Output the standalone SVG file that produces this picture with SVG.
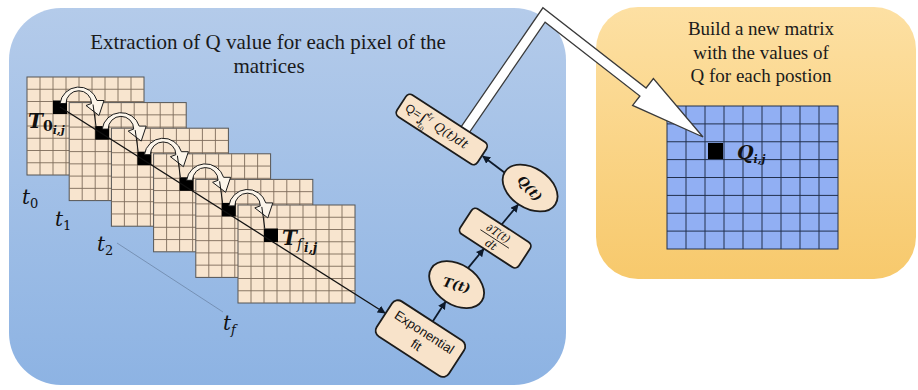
<svg xmlns="http://www.w3.org/2000/svg" xmlns:xlink="http://www.w3.org/1999/xlink" width="918" height="390" viewBox="0 0 918 390">
<style>
.ttl{font-family:"Liberation Serif","Times New Roman",serif;fill:#1a1a1a}
.math{font-family:"DejaVu Serif",serif;font-style:italic;fill:#111}
.mb{font-weight:bold}
.up{font-style:normal}
.node{fill:#f8e3ca;stroke:#1c1c1c;stroke-width:1.8}
.conn{stroke:#0e1a2b;stroke-width:1.8;fill:none}
.arc{fill:#fcf5ea;stroke:#1a1a1a;stroke-width:1}
.thin{stroke:#111;stroke-width:1;fill:none}
.px{fill:#000}
.sans{font-family:"Liberation Sans",Arial,sans-serif;fill:#111}
</style>
<defs>
<linearGradient id="gBlue" x1="0" y1="0" x2="0" y2="1">
<stop offset="0" stop-color="#b4cbea"/><stop offset="1" stop-color="#8db3e3"/>
</linearGradient>
<linearGradient id="gOr" x1="0" y1="0" x2="0" y2="1">
<stop offset="0" stop-color="#fde0a3"/><stop offset="1" stop-color="#f7c96c"/>
</linearGradient>
<marker id="ah" viewBox="0 0 10 10" refX="9" refY="5" markerWidth="8" markerHeight="8" markerUnits="userSpaceOnUse" orient="auto">
<path d="M0,0 L10,5 L0,10 z" fill="#0e1a2b"/>
</marker>
<g id="lgrid">
<rect width="117" height="98" fill="#f8e5cf" stroke="#555" stroke-width="1"/>
<path d="M13,0V98M26,0V98M39,0V98M52,0V98M65,0V98M78,0V98M91,0V98M104,0V98M0,12.25H117M0,24.5H117M0,36.75H117M0,49H117M0,61.25H117M0,73.5H117M0,85.75H117" stroke="#7d6b5a" stroke-width="0.9"/>
</g>
<path id="carc" d="M7,3 A19,19 0 0 1 44,0 L51,0 L46,15 L33,5 L38.5,3 A12.5,12.5 0 0 0 13,3 Z"/>
</defs>

<g id="panel-left">
<rect x="9" y="8" width="557" height="377" rx="52" fill="url(#gBlue)"/>
<text class="ttl" font-size="21" text-anchor="middle" x="268" y="49">Extraction of Q value for each pixel of the</text>
<text class="ttl" font-size="21" text-anchor="middle" x="269" y="73">matrices</text>
</g>

<g id="panel-right">
<rect x="596" y="7" width="320" height="272" rx="42" fill="url(#gOr)"/>
<text class="ttl" font-size="19" text-anchor="middle" x="761" y="35">Build a new matrix</text>
<text class="ttl" font-size="19" text-anchor="middle" x="761" y="58.5">with the values of</text>
<text class="ttl" font-size="19" text-anchor="middle" x="761" y="82">Q for each postion</text>
</g>

<g id="qmatrix">
<rect x="667" y="106" width="171" height="143" fill="#91aff3" stroke="#22304d" stroke-width="1"/>
<path d="M686,106V249M705,106V249M724,106V249M743,106V249M762,106V249M781,106V249M800,106V249M819,106V249M667,123.9H838M667,141.75H838M667,159.6H838M667,177.5H838M667,195.4H838M667,213.25H838M667,231.1H838" stroke="#22304d" stroke-width="1"/>
<rect class="px" x="708" y="143" width="15" height="16"/>
<text class="math mb" font-size="19" x="737" y="159">Q<tspan font-size="11" dy="4">i,j</tspan></text>
</g>

<g id="frame0" transform="translate(27,77)"><use href="#lgrid"/><rect class="px" x="26" y="23.5" width="14" height="13.5"/></g>
<g id="frame1" transform="translate(69.2,102.6)"><use href="#lgrid"/><rect class="px" x="26" y="23.5" width="14" height="13.5"/></g>
<g id="frame2" transform="translate(111.4,128.2)"><use href="#lgrid"/><rect class="px" x="26" y="23.5" width="14" height="13.5"/></g>
<g id="frame3" transform="translate(153.6,153.8)"><use href="#lgrid"/><rect class="px" x="26" y="23.5" width="14" height="13.5"/></g>
<g id="frame4" transform="translate(195.8,179.4)"><use href="#lgrid"/><rect class="px" x="26" y="23.5" width="14" height="13.5"/></g>
<g id="frame5" transform="translate(238,205)"><use href="#lgrid"/><rect class="px" x="26" y="23.5" width="14" height="13.5"/></g>

<g id="time-labels">
<text class="math" font-size="20" x="22" y="204">t<tspan class="up" font-size="13" dy="4">0</tspan></text>
<text class="math" font-size="20" x="55" y="226">t<tspan class="up" font-size="13" dy="4">1</tspan></text>
<text class="math" font-size="20" x="97" y="251">t<tspan class="up" font-size="13" dy="4">2</tspan></text>
<text class="math" font-size="20" x="223" y="330">t<tspan font-size="13" dy="4">f</tspan></text>
<line x1="117" y1="243" x2="223" y2="312" stroke="#6d86a8" stroke-width="0.8"/>
</g>

<g id="connectors">
<use href="#carc" class="arc" x="53" y="100.5"/>
<use href="#carc" class="arc" x="95.2" y="126.1"/>
<use href="#carc" class="arc" x="137.4" y="151.7"/>
<use href="#carc" class="arc" x="179.6" y="177.3"/>
<use href="#carc" class="arc" x="221.8" y="202.9"/>
<path class="thin" d="M93,104.5L96,126M135.2,130.1L138.2,151.7M177.4,155.7L180.4,177.3M219.6,181.3L222.6,202.9M261.8,206.9L264.8,228.5"/>
<line x1="60" y1="107" x2="385" y2="313" stroke="#111" stroke-width="1.3" marker-end="url(#ah)"/>
<polygon points="460.9,127.2 542.9,7.8 646.1,88 653.4,78.6 703,137 632.6,105.4 639.9,96 545.1,22.2 469.1,132.8" fill="#fff" stroke="#3a3a3a" stroke-width="1.3"/>
<g transform="rotate(33)">
<line class="conn" x1="538" y1="34" x2="538" y2="10.5" marker-end="url(#ah)"/>
<line class="conn" x1="538.5" y1="-30" x2="541.3" y2="-54.5" marker-end="url(#ah)"/>
<line class="conn" x1="543" y1="-85" x2="546" y2="-110.5" marker-end="url(#ah)"/>
<line class="conn" x1="517" y1="-130" x2="490" y2="-132" marker-end="url(#ah)"/>
</g>
</g>

<g id="labels-T">
<text class="math mb" font-size="20" x="28" y="128">T<tspan class="up" font-size="14" dy="3">0</tspan><tspan font-size="11" dy="3">i,j</tspan></text>
<text class="math mb" font-size="20" x="282" y="245">T<tspan font-size="14" dy="4" font-weight="normal">f</tspan><tspan font-size="12" dx="2" dy="3">i,j</tspan></text>
</g>

<g id="n-exp" transform="rotate(33)">
<rect class="node" x="494" y="34" width="86" height="42" rx="7"/>
<text class="sans" font-size="13" text-anchor="middle" x="537" y="52">Exponential</text>
<text class="sans" font-size="13" text-anchor="middle" x="537" y="67">fit</text>
</g>
<g id="n-T" transform="rotate(33)">
<ellipse class="node" cx="538" cy="-10" rx="30" ry="20"/>
<text class="math mb" font-size="13" text-anchor="middle" transform="translate(538,-10) rotate(-18)" y="5">T(t)</text>
</g>
<g id="n-dT" transform="rotate(33)">
<rect class="node" x="510" y="-85" width="70" height="30" rx="5"/>
<text class="math" font-size="11" text-anchor="middle" x="545" y="-72">∂T(t)</text>
<line x1="528" y1="-69" x2="562" y2="-69" stroke="#111" stroke-width="0.8"/>
<text class="math" font-size="11" text-anchor="middle" x="545" y="-58.5">dt</text>
</g>
<g id="n-Qt" transform="rotate(33)">
<ellipse class="node" cx="547" cy="-131" rx="30" ry="20"/>
<text class="math mb" font-size="13" text-anchor="middle" transform="translate(547,-131) rotate(15)" y="5">Q(t)</text>
</g>
<g id="n-Qint" transform="rotate(33)">
<rect class="node" x="393" y="-145" width="96" height="26" rx="5"/>
<text class="sans" font-size="12" x="399" y="-128">Q=</text>
<text class="math up" font-size="15" x="415" y="-126.5">∫</text>
<text class="math" font-size="8" x="422" y="-135">t<tspan font-size="6" dy="1.5">f</tspan></text>
<text class="math" font-size="8" x="418.5" y="-121">t<tspan class="up" font-size="6" dy="1.5">0</tspan></text>
<text class="math" font-size="12.5" x="433" y="-128">Q(t)dt</text>
</g>
</svg>
